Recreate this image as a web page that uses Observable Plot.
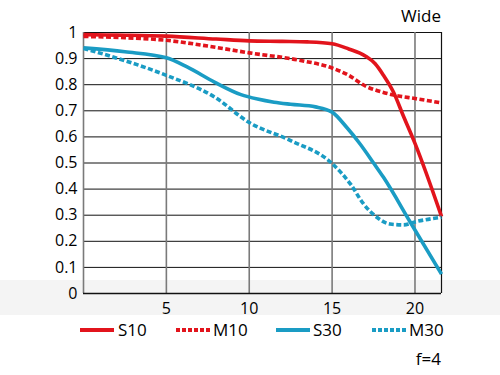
<!DOCTYPE html>
<html>
<head>
<meta charset="utf-8">
<script src="https://cdn.jsdelivr.net/npm/d3@7"></script>
<script src="https://cdn.jsdelivr.net/npm/@observablehq/plot@0.6"></script>
<style>
  body { margin: 0; background: #fff; font-family: "Open Sans", sans-serif; }
  #wrap { position: relative; width: 500px; height: 375px; overflow: hidden; }
  #band { position: absolute; left: 0; top: 280px; width: 500px; height: 35px; background: #f4f4f4; }
  #chart { position: absolute; left: 0; top: 0; }
  .lbl { position: absolute; font-size: 17px; line-height: 17px; color: #000; font-weight: 500; white-space: nowrap; }
  .sw { position: absolute; }
</style>
</head>
<body>
<div id="wrap">
  <div id="band"></div>
  <div id="chart"></div>
</div>
<script>
// ---- data ----
const title = "Wide";
const note = "f=4";
const seriesNames = ["S10", "M10", "S30", "M30"];
const xTicks = [5, 10, 15, 20];
const yTicks = [0, 0.1, 0.2, 0.3, 0.4, 0.5, 0.6, 0.7, 0.8, 0.9, 1];
const xMax = 21.6;

const s10X = [0, 2, 5, 8, 10, 12, 13.5, 15, 16, 17, 17.6, 18.1, 18.7, 19.3, 20, 21.6];
const s10Y = [0.992, 0.99, 0.986, 0.975, 0.968, 0.966, 0.964, 0.957, 0.937, 0.91, 0.88, 0.836, 0.772, 0.68, 0.575, 0.295];

const m10X = [0, 2.5, 5, 7.5, 10, 13, 15, 16, 17, 18, 19, 20, 21.6];
const m10Y = [0.985, 0.98, 0.97, 0.948, 0.922, 0.894, 0.864, 0.836, 0.795, 0.772, 0.757, 0.747, 0.73];

const s30X = [0, 2.5, 5, 6.25, 7.9, 9.5, 10.5, 11.5, 12.5, 14, 15, 15.9, 16.7, 17.5, 18.1, 19.7, 21.6];
const s30Y = [0.941, 0.926, 0.903, 0.868, 0.81, 0.762, 0.745, 0.733, 0.725, 0.715, 0.695, 0.635, 0.572, 0.5, 0.445, 0.275, 0.074];

const m30X = [0, 2.5, 5, 7.9, 10, 12.5, 15, 16.1, 16.9, 17.7, 18.5, 19.3, 20.1, 21.6];
const m30Y = [0.939, 0.892, 0.836, 0.753, 0.655, 0.586, 0.498, 0.42, 0.343, 0.292, 0.266, 0.263, 0.276, 0.292];

const red = "#e2141c";
const blue = "#1a9cc4";
const styles = {
  S10: {color: red, dash: null},
  M10: {color: red, dash: "5,2.5"},
  S30: {color: blue, dash: null},
  M30: {color: blue, dash: "5,2.5"}
};

const toRows = (name, xs, ys) => xs.map((x, i) => ({series: name, x, y: ys[i]}));
const series = {
  S10: toRows("S10", s10X, s10Y),
  M10: toRows("M10", m10X, m10Y),
  S30: toRows("S30", s30X, s30Y),
  M30: toRows("M30", m30X, m30Y)
};

const gridX = [0, ...xTicks];
const gridY = yTicks.filter(v => v > 0);

const chart = Plot.plot({
  width: 500,
  height: 320,
  marginLeft: 83,
  marginRight: 59,
  marginTop: 32,
  marginBottom: 27,
  style: {background: "transparent", fontFamily: "Open Sans, sans-serif"},
  x: {domain: [0, xMax]},
  y: {domain: [0, 1]},
  marks: [
    Plot.ruleY(gridY, {stroke: "#111", strokeWidth: 1}),
    Plot.ruleX(gridX, {stroke: "#7a7a7a", strokeWidth: 1.6}),
    Plot.ruleX([xMax], {stroke: "#111", strokeWidth: 1.2}),
    Plot.ruleY([0], {stroke: "#111", strokeWidth: 1.6}),
    ...seriesNames.map(n => Plot.line(series[n], {
      x: "x", y: "y", stroke: styles[n].color, strokeWidth: 3.6,
      strokeDasharray: styles[n].dash, curve: "monotone-x", strokeLinecap: "butt"
    })),
    Plot.axisY(yTicks, {tickSize: 0, tickPadding: 6, fontSize: 16, fontWeight: 500, fill: "#000",
      tickFormat: d => String(d), label: null}),
    Plot.axisX(xTicks, {tickSize: 0, tickPadding: 9, fontSize: 16, fontWeight: 500, fill: "#000",
      tickFormat: d => String(d), label: null})
  ]
});
document.getElementById("chart").appendChild(chart);

// ---- title, legend, note ----
const wrap = d3.select("#wrap");
wrap.append("div").attr("class", "lbl").style("right", "59px").style("top", "7px").text(title);
wrap.append("div").attr("class", "lbl").style("right", "59px").style("top", "350px").text(note);

const legendPos = {S10: [80, 118], M10: [176, 213], S30: [276, 313], M30: [372, 409]};
seriesNames.forEach(n => {
  const [sx, tx] = legendPos[n];
  const sw = wrap.append("svg").attr("class", "sw")
    .attr("width", 35).attr("height", 8)
    .style("left", sx + "px").style("top", "326px");
  sw.append("line").attr("x1", 0).attr("x2", 34).attr("y1", 4).attr("y2", 4)
    .attr("stroke", styles[n].color).attr("stroke-width", 4)
    .attr("stroke-dasharray", styles[n].dash ? "4,2" : null);
  wrap.append("div").attr("class", "lbl").style("left", tx + "px").style("top", "321px").text(n);
});
</script>
</body>
</html>
